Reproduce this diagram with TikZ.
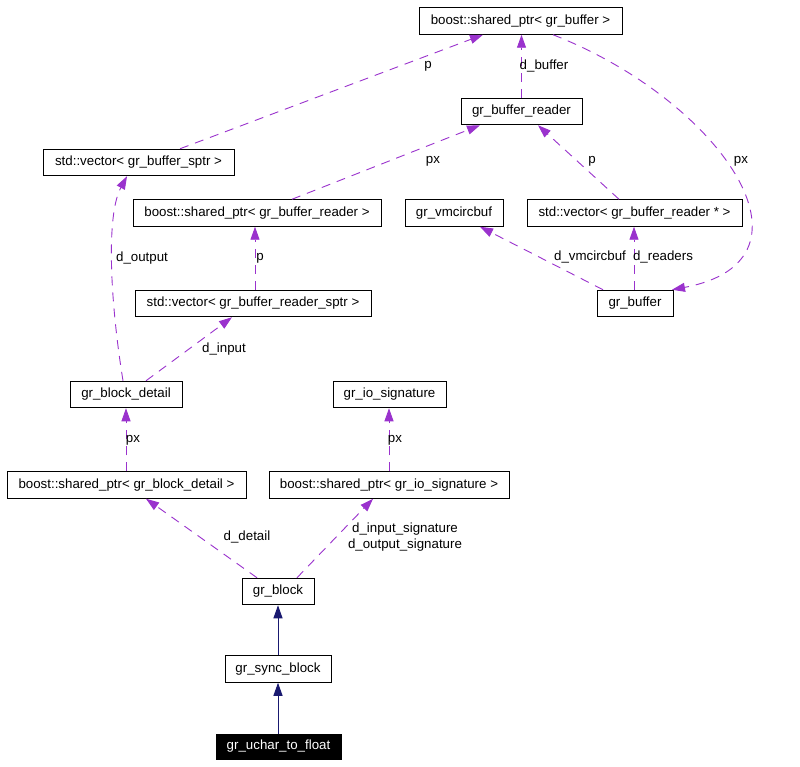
\documentclass[tikz,border=0pt]{standalone}
\usepackage{fontspec}
\setmainfont{Liberation Sans}
\usetikzlibrary{arrows.meta}
\definecolor{edgepurple}{HTML}{9A32CD}
\definecolor{edgenavy}{HTML}{191970}
\tikzset{
  cls/.style={draw=black, line width=1pt, fill=white, inner sep=0pt, minimum height=26.5pt, font=\fontsize{13.3}{15}\selectfont},
  curcls/.style={cls, fill=black, text=white, draw=black},
  usage/.style={draw=edgepurple, line width=0.9pt, dash pattern=on 9pt off 7pt, -{Triangle[length=13pt,width=9pt]}},
  inherit/.style={draw=edgenavy, line width=1pt, -{Triangle[length=13pt,width=9pt]}},
  elabel/.style={inner sep=0pt, font=\fontsize{13.3}{16}\selectfont, align=center}
}
\begin{document}
\begin{tikzpicture}[x=1pt,y=-1pt]
\useasboundingbox[fill=white] (0,0) rectangle (800,767);
% nodes
\node[cls, minimum width=203pt] (A) at (520.5,21) {boost::shared\_ptr< gr\_buffer >};
\node[cls, minimum width=121pt] (B) at (521.5,111.5) {gr\_buffer\_reader};
\node[cls, minimum width=98pt] (C) at (454,213) {gr\_vmcircbuf};
\node[cls, minimum width=215pt] (D) at (634.5,213) {std::vector< gr\_buffer\_reader * >};
\node[cls, minimum width=76pt] (E) at (635,303.5) {gr\_buffer};
\node[cls, minimum width=191pt] (F) at (138.5,162.5) {std::vector< gr\_buffer\_sptr >};
\node[cls, minimum width=248pt] (G) at (257,213) {boost::shared\_ptr< gr\_buffer\_reader >};
\node[cls, minimum width=236pt] (H) at (253,303.5) {std::vector< gr\_buffer\_reader\_sptr >};
\node[cls, minimum width=112pt] (I) at (126,394.5) {gr\_block\_detail};
\node[cls, minimum width=113pt] (J) at (389.5,394.5) {gr\_io\_signature};
\node[cls, minimum width=239pt] (K) at (126.5,485) {boost::shared\_ptr< gr\_block\_detail >};
\node[cls, minimum width=240pt] (L) at (389,485) {boost::shared\_ptr< gr\_io\_signature >};
\node[cls, minimum width=72pt] (M) at (278,591.5) {gr\_block};
\node[cls, minimum width=106pt] (N) at (278,669) {gr\_sync\_block};
\node[curcls, minimum width=125pt, minimum height=25pt] (O) at (278.5,746.5) {gr\_uchar\_to\_float};
% usage edges
\draw[usage] ([xshift=41.5pt]F.north) -- ([xshift=-37.5pt]A.south);
\draw[usage] (B.north) -- (B.north |- A.south);
\draw[usage] ([xshift=32.5pt]A.south) .. controls (720,100) and (830,260) .. ([xshift=37pt]E.north);
\draw[usage] ([xshift=35pt]G.north) -- ([xshift=-41.5pt]B.south);
\draw[usage] ([xshift=-15.5pt]D.north) -- ([xshift=16.5pt]B.south);
\draw[usage] ([xshift=-32pt]E.north) -- ([xshift=26pt]C.south);
\draw[usage] ([xshift=-1pt]E.north) -- ([xshift=-1pt]E.north |- D.south);
\draw[usage] ([xshift=2pt]H.north) -- ([xshift=2pt]H.north |- G.south);
\draw[usage] ([xshift=-3pt]I.north) .. controls (110,300) and (106,215) .. ([xshift=-11.5pt]F.south);
\draw[usage] ([xshift=20pt]I.north) -- ([xshift=-21pt]H.south);
\draw[usage] (I.south |- K.north) -- (I.south);
\draw[usage] (L.north) -- (L.north |- J.south);
\draw[usage] ([xshift=-21pt]M.north) -- ([xshift=19.5pt]K.south);
\draw[usage] ([xshift=19pt]M.north) -- ([xshift=-16pt]L.south);
% inheritance edges
\draw[inherit] (N.north) -- (M.south);
\draw[inherit] (N.south |- O.north) -- (N.south);
% labels
\node[elabel] (l1) at (428,66) {p};
\node[elabel] (l2) at (544,66) {d\_buffer};
\node[elabel] (l3) at (741,161) {px};
\node[elabel] (l4) at (433,161) {px};
\node[elabel] (l5) at (592,161) {p};
\node[elabel] (l6) at (142,258) {d\_output};
\node[elabel] (l7) at (260,258) {p};
\node[elabel] (l8) at (590,257) {d\_vmcircbuf};
\node[elabel] (l9) at (663,257) {d\_readers};
\node[elabel] (l10) at (224,349) {d\_input};
\node[elabel] (l11) at (133,440) {px};
\node[elabel] (l12) at (395,440) {px};
\node[elabel] (l13) at (247,537) {d\_detail};
\node[elabel] (l14) at (405,537) {d\_input\_signature\\d\_output\_signature};
\end{tikzpicture}
\end{document}
